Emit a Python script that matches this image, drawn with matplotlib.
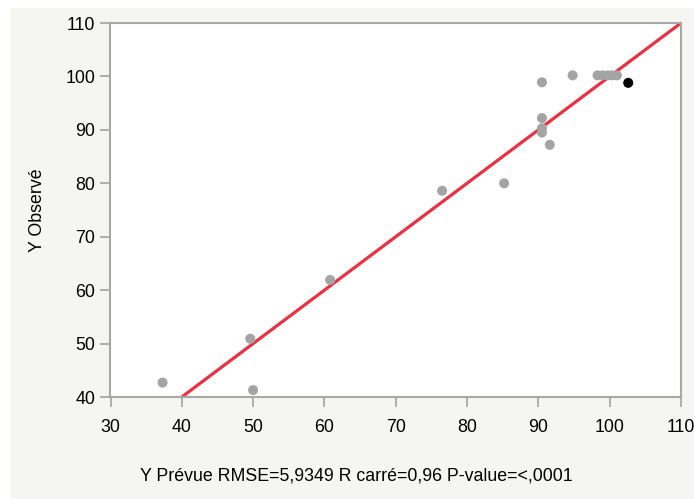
import numpy as np
import matplotlib.pyplot as plt
from matplotlib.patches import Rectangle

plt.rcParams['font.family'] = ['Liberation Sans', 'DejaVu Sans']

# predicted vs observed values
y_prevue = [37.3, 49.6, 50.0, 60.8, 76.5, 85.2, 90.5, 90.5, 90.5, 90.5,
            91.6, 94.8, 98.3, 99.0, 99.7, 100.3, 101.0]
y_observe = [42.7, 50.9, 41.3, 61.9, 78.6, 80.0, 98.9, 92.2, 90.3, 89.5,
             87.2, 100.2, 100.2, 100.2, 100.2, 100.2, 100.2]
# highlighted row
hl_x = [102.6]
hl_y = [98.8]
# identity line
line_x = [40, 110]

fig = plt.figure(figsize=(6.94, 4.99), dpi=100)
fig.patch.set_facecolor('white')
fig.patches.append(Rectangle((11/694, 0), 1, 491/499, transform=fig.transFigure,
                             facecolor='#f5f5f1', edgecolor='none', zorder=-10))

ax = fig.add_axes([110.5/694, 102/499, 570.5/694, 374/499])
ax.set_facecolor('white')

ax.plot(line_x, line_x, color='#ec3042', lw=2.3, zorder=2)
ax.scatter(y_prevue, y_observe, s=52, color='#a4a4a4', edgecolors='none', zorder=3)
ax.scatter(hl_x, hl_y, s=52, color='black', edgecolors='none', zorder=4)

ax.set_xlim(30, 110)
ax.set_ylim(40, 110)
ax.set_xticks(np.arange(30, 111, 10))
ax.set_yticks(np.arange(40, 111, 10))

for s in ax.spines.values():
    s.set_color('#a8a8a8')
    s.set_linewidth(1.5)
ax.tick_params(direction='out', length=7.5, width=1.3, color='#a8a8a8',
               labelsize=12.8, labelcolor='black')
ax.tick_params(axis='x', pad=8)
ax.tick_params(axis='y', pad=3.5)

ax.set_ylabel('Y Observé', fontsize=12.8, labelpad=14)
fig.text(356/694, 1 - 476/499, 'Y Prévue RMSE=5,9349 R carré=0,96 P-value=<,0001',
         ha='center', va='center', fontsize=12.8)

fig.savefig('out.png', dpi=100)
